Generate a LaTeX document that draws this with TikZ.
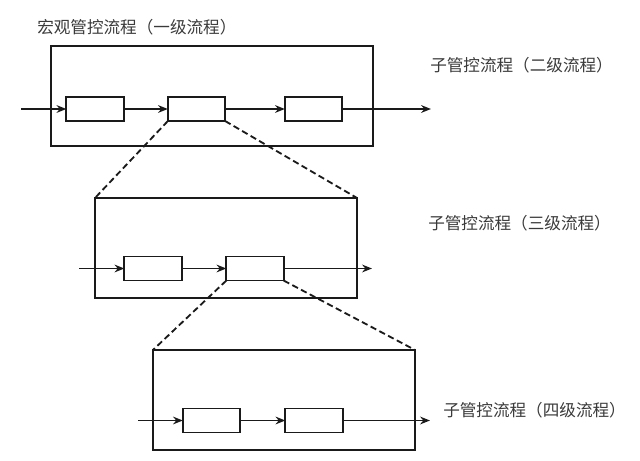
\documentclass[tikz,border=0pt]{standalone}
\usepackage{xcolor}
\usepackage{tikz}
\usepackage{fontspec}
\newfontfamily\cjk{Noto Sans CJK SC}
\definecolor{inkgray}{HTML}{1A1A1A}
\definecolor{textgray}{HTML}{3A3A3A}
\usetikzlibrary{arrows.meta, positioning, calc}

\begin{document}
\begin{tikzpicture}[
    x=0.025cm, y=-0.025cm,
    every node/.style={font=\cjk\fontsize{11.8}{14}\selectfont},
    frame/.style={draw=inkgray, line width=1.3pt, inner sep=0pt, outer sep=0pt,
                  minimum height=2.5cm},
    stepbox/.style={draw=inkgray, line width=1.3pt, inner sep=0pt, outer sep=0pt,
                    minimum width=1.43cm, minimum height=0.6cm},
    flow/.style={draw=inkgray, line width=1.3pt, -{Stealth[length=7pt, width=5.5pt]}},
    zoomline/.style={draw=inkgray, line width=1.3pt, dash pattern=on 4.5pt off 2.5pt},
    caption/.style={anchor=west, text=textgray, inner sep=0pt},
]
\useasboundingbox (0,0) rectangle (640,461);

% --- Level 1: macro control flow ---
\node[frame, minimum width=8.05cm] (lvA) at (212,96) {};
\node[stepbox] (a1) at (95,109) {};
\node[stepbox] (a2) at (196.5,109) {};
\node[stepbox] (a3) at (313.5,109) {};
\coordinate (inA)  at (21,109);
\coordinate (outA) at (431,109);

\draw[flow] (inA) -- (a1);
\draw[flow] (a1) -- (a2);
\draw[flow] (a2) -- (a3);
\draw[flow] (a3) -- (outA);

\node[caption] (capTop) at (37,27) {宏观管控流程（一级流程）};
\node[caption] (capA)   at (430,65) {子管控流程（二级流程）};

% --- Level 2: sub flow ---
\node[frame, minimum width=6.55cm] (lvB) at (226,248) {};
\node[stepbox] (b1) at (153,268.5) {};
\node[stepbox] (b2) at (255,268.5) {};
\coordinate (inB)  at (79,268.5);
\coordinate (outB) at (372,268.5);

\draw[flow] (inB) -- (b1);
\draw[flow] (b1) -- (b2);
\draw[flow] (b2) -- (outB);

\node[caption] (capB) at (428,223) {子管控流程（三级流程）};

% --- Level 3: sub flow ---
\node[frame, minimum width=6.55cm] (lvC) at (284,400) {};
\node[stepbox] (c1) at (211.5,420.5) {};
\node[stepbox] (c2) at (314,420.5) {};
\coordinate (inC)  at (138,420.5);
\coordinate (outC) at (430,420.5);

\draw[flow] (inC) -- (c1);
\draw[flow] (c1) -- (c2);
\draw[flow] (c2) -- (outC);

\node[caption] (capC) at (443,410) {子管控流程（四级流程）};

% --- Zoom-in lines between levels ---
\draw[zoomline] (a2.south west) -- (lvB.north west);
\draw[zoomline] (a2.south east) -- (lvB.north east);
\draw[zoomline] (b2.south west) -- (lvC.north west);
\draw[zoomline] (b2.south east) -- (lvC.north east);
\end{tikzpicture}
\end{document}
